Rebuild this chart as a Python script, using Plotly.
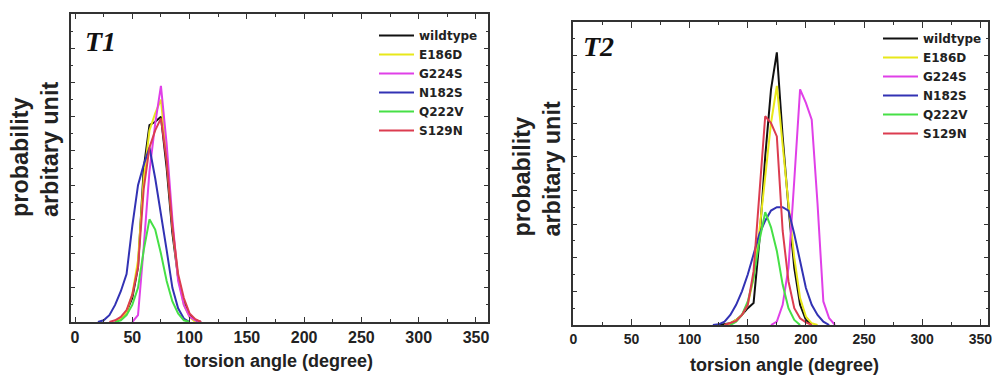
import plotly.graph_objects as go

series_names = ["wildtype", "E186D", "G224S", "N182S", "Q222V", "S129N"]
series_colors = ["#111111", "#e8e81a", "#e040e8", "#3232b4", "#46e046", "#dc3c50"]

# ---- T1 panel ----
t1_wildtype_x = [35, 40, 45, 50, 55, 60, 65, 70, 75, 80, 85, 90, 95, 100, 105, 110]
t1_wildtype_y = [0, 0.1, 0.3, 0.7, 1.6, 4.5, 5.75, 5.85, 6.0, 4.5, 2.6, 1.3, 0.6, 0.2, 0.05, 0]
t1_E186D_x = [35, 40, 45, 50, 55, 60, 65, 70, 75, 80, 85, 90, 95, 100, 105]
t1_E186D_y = [0, 0.1, 0.3, 0.8, 1.8, 4.2, 5.6, 6.1, 6.5, 4.8, 2.8, 1.3, 0.5, 0.15, 0]
t1_G224S_x = [50, 55, 60, 65, 70, 75, 80, 85, 90, 95, 100, 105, 110]
t1_G224S_y = [0, 0.2, 2.2, 4.4, 5.8, 6.9, 5.2, 3.0, 1.2, 0.5, 0.15, 0.05, 0]
t1_N182S_x = [20, 25, 30, 35, 40, 45, 50, 55, 60, 65, 70, 75, 80, 85, 90, 95, 100]
t1_N182S_y = [0, 0.05, 0.2, 0.5, 0.9, 1.4, 2.8, 4.0, 4.6, 5.1, 4.2, 3.2, 2.1, 1.0, 0.4, 0.1, 0]
t1_Q222V_x = [35, 40, 45, 50, 55, 60, 65, 70, 75, 80, 85, 90, 95, 100]
t1_Q222V_y = [0, 0.05, 0.2, 0.5, 1.0, 2.1, 3.0, 2.7, 2.0, 1.2, 0.6, 0.25, 0.05, 0]
t1_S129N_x = [30, 35, 40, 45, 50, 55, 60, 65, 70, 75, 80, 85, 90, 95, 100, 105, 110]
t1_S129N_y = [0, 0.05, 0.15, 0.35, 0.8, 1.6, 3.9, 5.1, 5.6, 5.95, 4.7, 2.8, 1.4, 0.7, 0.25, 0.08, 0]

# ---- T2 panel ----
t2_wildtype_x = [125, 130, 135, 140, 145, 150, 155, 160, 165, 170, 175, 180, 185, 190, 195, 200, 205]
t2_wildtype_y = [0, 0.02, 0.05, 0.15, 0.3, 0.5, 0.65, 2.5, 5.0, 7.0, 8.1, 5.6, 3.5, 1.7, 0.6, 0.15, 0]
t2_E186D_x = [130, 135, 140, 145, 150, 155, 160, 165, 170, 175, 180, 185, 190, 195, 200, 205, 210]
t2_E186D_y = [0, 0.05, 0.15, 0.3, 0.6, 1.4, 2.8, 4.5, 6.0, 7.1, 5.3, 3.6, 2.0, 0.8, 0.25, 0.05, 0]
t2_G224S_x = [170, 175, 180, 185, 190, 195, 200, 205, 210, 215, 220, 225]
t2_G224S_y = [0, 0.1, 0.6, 1.7, 4.3, 7.0, 6.6, 6.1, 3.6, 0.7, 0.2, 0]
t2_N182S_x = [120, 125, 130, 135, 140, 145, 150, 155, 160, 165, 170, 175, 180, 185, 190, 195, 200, 205, 210, 215, 220]
t2_N182S_y = [0, 0.02, 0.1, 0.3, 0.6, 1.0, 1.5, 2.1, 2.7, 3.1, 3.4, 3.5, 3.5, 3.4, 2.7, 1.9, 1.1, 0.6, 0.3, 0.1, 0]
t2_Q222V_x = [135, 140, 145, 150, 155, 160, 165, 170, 175, 180, 185, 190, 195]
t2_Q222V_y = [0, 0.1, 0.3, 0.7, 1.4, 2.5, 3.35, 2.9, 2.2, 1.2, 0.5, 0.15, 0]
t2_S129N_x = [130, 135, 140, 145, 150, 155, 160, 165, 170, 175, 180, 185, 190, 195, 200, 205]
t2_S129N_y = [0, 0.05, 0.12, 0.3, 0.6, 1.6, 3.8, 6.2, 6.0, 5.6, 2.8, 1.3, 0.5, 0.2, 0.08, 0]

x_tick_vals = [0, 50, 100, 150, 200, 250, 300, 350]
x_tick_text = ["0", "50", "100", "150", "200", "250", "300", "350"]

t1_series = [(t1_wildtype_x, t1_wildtype_y), (t1_E186D_x, t1_E186D_y), (t1_G224S_x, t1_G224S_y),
             (t1_N182S_x, t1_N182S_y), (t1_Q222V_x, t1_Q222V_y), (t1_S129N_x, t1_S129N_y)]
t2_series = [(t2_wildtype_x, t2_wildtype_y), (t2_E186D_x, t2_E186D_y), (t2_G224S_x, t2_G224S_y),
             (t2_N182S_x, t2_N182S_y), (t2_Q222V_x, t2_Q222V_y), (t2_S129N_x, t2_S129N_y)]

fig = go.Figure()

for i, (xs, ys) in enumerate(t1_series):
    fig.add_trace(go.Scatter(x=xs, y=ys, mode="lines", name=series_names[i],
                             line=dict(color=series_colors[i], width=2),
                             xaxis="x", yaxis="y", legend="legend"))
for i, (xs, ys) in enumerate(t2_series):
    fig.add_trace(go.Scatter(x=xs, y=ys, mode="lines", name=series_names[i],
                             line=dict(color=series_colors[i], width=2),
                             xaxis="x2", yaxis="y2", legend="legend2"))

W, H = 992, 375
axis_common = dict(showline=True, linecolor="#333333", linewidth=1.5, mirror="ticks",
                   ticks="inside", tickcolor="#333333", showgrid=False, zeroline=False)

tickfont = dict(family="Liberation Sans, Arial, sans-serif", size=16, color="#222222", weight="bold")
tickfont2 = dict(family="Liberation Sans, Arial, sans-serif", size=14, color="#222222", weight="bold")
legfont = dict(family="DejaVu Sans", size=12, color="#222222", weight="bold")

fig.update_layout(
    width=W, height=H,
    margin=dict(l=0, r=0, t=0, b=0, autoexpand=False),
    paper_bgcolor="white", plot_bgcolor="white",
    xaxis=dict(domain=[71 / W, 488 / W], range=[-3.5, 360.5], anchor="y",
               tickvals=x_tick_vals, ticktext=x_tick_text, ticklen=5, tickfont=tickfont,
               ticklabeloverflow="allow",
               minor=dict(dtick=25, ticklen=3, ticks="inside", tickcolor="#333333"), **axis_common),
    yaxis=dict(domain=[(H - 322) / H, (H - 14) / H], range=[0, 9], anchor="x",
               dtick=1, ticklen=4, showticklabels=False,
               minor=dict(dtick=0.5, ticklen=2, ticks="inside", tickcolor="#333333"), **axis_common),
    xaxis2=dict(domain=[573 / W, 988 / W], range=[-0.3, 356.6], anchor="y2",
                tickvals=x_tick_vals, ticktext=x_tick_text, ticklen=6, tickfont=tickfont2,
                ticklabeloverflow="allow",
                minor=dict(dtick=25, ticklen=3, ticks="inside", tickcolor="#333333"), **axis_common),
    yaxis2=dict(domain=[(H - 325) / H, (H - 22) / H], range=[0, 9], anchor="x2",
                dtick=1, ticklen=4, showticklabels=False,
                minor=dict(dtick=0.5, ticklen=2, ticks="inside", tickcolor="#333333"), **axis_common),
    legend=dict(x=374 / W, y=(H - 21) / H, xanchor="left", yanchor="top",
                bgcolor="rgba(0,0,0,0)", borderwidth=0, itemwidth=35,
                font=legfont, tracegroupgap=0),
    legend2=dict(x=878 / W, y=(H - 24) / H, xanchor="left", yanchor="top",
                 bgcolor="rgba(0,0,0,0)", borderwidth=0, itemwidth=35,
                 font=legfont, tracegroupgap=0),
    showlegend=True,
)

ytitle_font = dict(family="Liberation Sans, Arial, sans-serif", size=23.4, color="#222222", weight="bold")
xtitle_font = dict(family="Liberation Sans, Arial, sans-serif", size=18, color="#222222", weight="bold")
panel_font = dict(family="Liberation Serif, Times New Roman, serif", size=28, color="#111111",
                  weight="bold", style="italic")

annots = [
    dict(text="probability<br>arbitary unit", x=35.5 / W, y=(H - 149.5) / H, textangle=-90,
         align="left", font=ytitle_font),
    dict(text="probability<br>arbitary unit", x=537 / W, y=(H - 169.5) / H, textangle=-90,
         align="left", font=ytitle_font),
    dict(text="torsion angle (degree)", x=278 / W, y=(H - 361) / H, font=xtitle_font),
    dict(text="torsion angle (degree)", x=784 / W, y=(H - 365) / H, font=xtitle_font),
    dict(text="T1", x=100 / W, y=(H - 42) / H, font=panel_font),
    dict(text="T2", x=598 / W, y=(H - 47) / H, font=panel_font),
]
for a in annots:
    fig.add_annotation(xref="paper", yref="paper", showarrow=False, xanchor="center", yanchor="middle", **a)

fig.write_html("out.html", config={"displayModeBar": False},
               post_script="document.body.style.margin='0px';document.body.style.overflow='hidden';")
